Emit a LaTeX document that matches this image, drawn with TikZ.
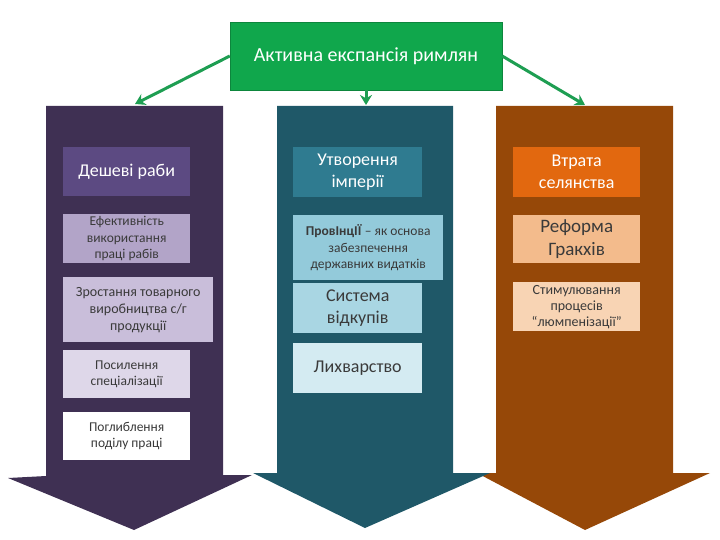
\documentclass[tikz,border=0pt]{standalone}
\usepackage{fontspec}
\setmainfont{Carlito}
\usetikzlibrary{arrows.meta}
\definecolor{gtop}{HTML}{10A74C}
\definecolor{gline}{HTML}{1E9E52}
\definecolor{purA}{HTML}{3F3053}
\definecolor{tealA}{HTML}{1F5868}
\definecolor{brnA}{HTML}{964808}
\definecolor{p1}{HTML}{5C4A82}
\definecolor{p2}{HTML}{B2A4C8}
\definecolor{p3}{HTML}{C9BEDA}
\definecolor{p4}{HTML}{DED7E9}
\definecolor{t1}{HTML}{2F7B90}
\definecolor{t2}{HTML}{93CADA}
\definecolor{t3}{HTML}{A9D6E3}
\definecolor{t4}{HTML}{D4EBF2}
\definecolor{o1}{HTML}{E2680F}
\definecolor{o2}{HTML}{F3BB8C}
\definecolor{o3}{HTML}{F8D4B4}
\definecolor{dtext}{HTML}{3A3A3A}
\tikzset{
  box/.style={inner sep=0pt, align=center, anchor=north west, text=dtext},
  bigtxt/.style={font=\fontsize{18}{22}\selectfont},
  smalltxt/.style={font=\fontsize{13.5}{16.5}\selectfont},
  conn/.style={draw=gline, line width=3pt, -{Stealth[length=10pt,width=12pt]}}
}
\begin{document}
\begin{tikzpicture}[x=1pt,y=-1pt]
\useasboundingbox (0,0) rectangle (720,540);
% big arrows
\fill[brnA] (496,106) -- (673,106) -- (673,473) -- (710,473) -- (585,530) -- (477,473) -- (496,473) -- cycle;
\fill[tealA] (277,106) -- (453,106) -- (453,473) -- (490,473) -- (365,528) -- (253,473) -- (277,473) -- cycle;
\fill[purA] (46,106) -- (223,106) -- (223,475) -- (252,475) -- (134,530) -- (8,478) -- (46,476) -- cycle;
% top node
\node[draw=gtop!80!black, fill=gtop, inner sep=0pt, minimum width=272pt, minimum height=68pt, text=white,
  font=\fontsize{20}{24}\selectfont] (top) at (366,56) {Активна експансія римлян};
\coordinate (cl) at (135,104);
\coordinate (cc) at (366,105);
\coordinate (cr) at (585,105);
\draw[conn] (top.west) -- (cl);
\draw[conn] (top.south) -- (cc);
\draw[conn] (top.east) -- (cr);
% left column
\node[box, bigtxt, fill=p1, text=white, minimum width=127pt, minimum height=49pt] (l1) at (63,147) {Дешеві раби};
\node[box, smalltxt, fill=p2, minimum width=127pt, minimum height=49pt] (l2) at (63,214) {Ефективність\\використання\\праці рабів};
\node[box, fill=p3, font=\fontsize{14}{17}\selectfont, minimum width=150pt, minimum height=65pt] (l3) at (63,277) {Зростання товарного\\виробництва с/г\\продукції};
\node[box, smalltxt, fill=p4, minimum width=127pt, minimum height=48pt] (l4) at (63,350) {Посилення\\спеціалізації};
\node[box, smalltxt, fill=white, minimum width=127pt, minimum height=48pt] (l5) at (63,412) {Поглиблення\\поділу праці};
% middle column
\node[box, bigtxt, fill=t1, text=white, minimum width=129pt, minimum height=50pt] (m1) at (293,147) {Утворення\\імперії};
\node[box, smalltxt, fill=t2, minimum width=150pt, minimum height=65pt] (m2) at (293,215) {\textbf{ПровІнцІЇ} – як основа\\забезпечення\\державних видатків};
\node[box, bigtxt, fill=t3, minimum width=129pt, minimum height=50pt] (m3) at (293,283) {Система\\відкупів};
\node[box, bigtxt, fill=t4, minimum width=129pt, minimum height=50pt] (m4) at (293,343) {Лихварство};
% right column
\node[box, bigtxt, fill=o1, text=white, minimum width=127pt, minimum height=50pt] (r1) at (513,147) {Втрата\\селянства};
\node[box, font=\fontsize{19}{23}\selectfont, fill=o2, minimum width=127pt, minimum height=48pt] (r2) at (513,215) {Реформа\\Гракхів};
\node[box, font=\fontsize{14}{16}\selectfont, fill=o3, minimum width=127pt, minimum height=49pt] (r3) at (513,282) {Стимулювання\\процесів\\“люмпенізації”};
\end{tikzpicture}
\end{document}
